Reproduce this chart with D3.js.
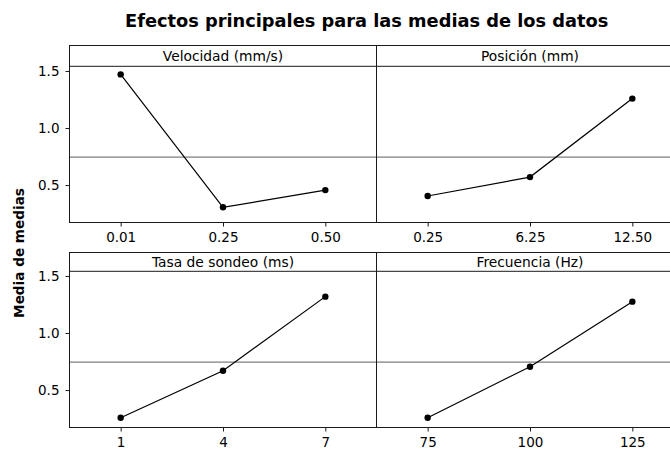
<!DOCTYPE html>
<html>
<head>
<meta charset="utf-8">
<script src="https://cdn.jsdelivr.net/npm/d3@7"></script>
<style>
  html, body { margin: 0; padding: 0; background: #fff; }
  svg { display: block; }
  text { font-family: "DejaVu Sans", Verdana, sans-serif; }
</style>
</head>
<body>
<svg id="chart" width="670" height="450"></svg>
<script>
// ---- Data ----
const title = "Efectos principales para las medias de los datos";
const yLabel = "Media de medias";
const factorNames = ["Velocidad (mm/s)", "Posición (mm)", "Tasa de sondeo (ms)", "Frecuencia (Hz)"];
const velocidadLevels = ["0.01", "0.25", "0.50"];
const velocidadMeans = [1.470, 0.305, 0.456];
const posicionLevels = ["0.25", "6.25", "12.50"];
const posicionMeans = [0.404, 0.570, 1.258];
const tasaLevels = ["1", "4", "7"];
const tasaMeans = [0.258, 0.670, 1.319];
const frecuenciaLevels = ["75", "100", "125"];
const frecuenciaMeans = [0.258, 0.705, 1.275];
const yTicks = [0.5, 1.0, 1.5];
const yDomain = [0.172, 1.541];

const panels = [
  { name: factorNames[0], levels: velocidadLevels, means: velocidadMeans, row: 0, col: 0 },
  { name: factorNames[1], levels: posicionLevels, means: posicionMeans, row: 0, col: 1 },
  { name: factorNames[2], levels: tasaLevels, means: tasaMeans, row: 1, col: 0 },
  { name: factorNames[3], levels: frecuenciaLevels, means: frecuenciaMeans, row: 1, col: 1 }
];
const grandMean = d3.mean([].concat(velocidadMeans, posicionMeans, tasaMeans, frecuenciaMeans));

// ---- Layout ----
const colLeft = [69.5, 376.5];
const colWidth = 307;
const rowTop = [45.5, 252.5];
const plotTop = [66.3, 271.3];
const plotBottom = [222.5, 427.5];
const lineColor = "#1a1a1a";
const fontSize = "13.5px";

const svg = d3.select("#chart");

svg.append("text")
  .attr("x", 125).attr("y", 27)
  .attr("font-size", "17.8px").attr("font-weight", "bold")
  .attr("fill", "#000")
  .text(title);

svg.append("text")
  .attr("transform", "translate(24,253) rotate(-90)")
  .attr("text-anchor", "middle")
  .attr("font-size", "13.6px").attr("font-weight", "bold")
  .attr("fill", "#000")
  .text(yLabel);

panels.forEach(p => {
  const x0 = colLeft[p.col], x1 = x0 + colWidth;
  const g = svg.append("g");
  const x = d3.scalePoint().domain(p.levels).range([x0, x1]).padding(0.5);
  const y = d3.scaleLinear().domain(yDomain).range([plotBottom[p.row], plotTop[p.row]]);

  // mean reference line
  g.append("line")
    .attr("x1", x0).attr("x2", x1)
    .attr("y1", y(grandMean)).attr("y2", y(grandMean))
    .attr("stroke", "#7f7f7f").attr("stroke-width", 1.3);

  // data line
  const pts = p.levels.map((l, i) => [x(l), y(p.means[i])]);
  g.append("path")
    .attr("d", d3.line()(pts))
    .attr("fill", "none").attr("stroke", "#000").attr("stroke-width", 1.2);
  g.selectAll("circle").data(pts).join("circle")
    .attr("cx", d => d[0]).attr("cy", d => d[1]).attr("r", 3.2).attr("fill", "#000");

  // frame and strip
  g.append("rect")
    .attr("x", x0).attr("y", rowTop[p.row])
    .attr("width", colWidth).attr("height", plotBottom[p.row] - rowTop[p.row])
    .attr("fill", "none").attr("stroke", lineColor).attr("stroke-width", 1);
  g.append("line")
    .attr("x1", x0).attr("x2", x1)
    .attr("y1", plotTop[p.row]).attr("y2", plotTop[p.row])
    .attr("stroke", lineColor).attr("stroke-width", 1);
  g.append("text")
    .attr("x", x0 + colWidth / 2)
    .attr("y", (rowTop[p.row] + plotTop[p.row]) / 2)
    .attr("dy", "0.36em")
    .attr("text-anchor", "middle")
    .attr("font-size", "13.8px").attr("fill", "#000")
    .text(p.name);

  // x axis
  const xa = g.append("g")
    .attr("transform", `translate(0,${plotBottom[p.row]})`)
    .call(d3.axisBottom(x).tickSize(4).tickPadding(6));
  xa.select(".domain").remove();
  xa.selectAll("line").attr("stroke", lineColor);
  xa.selectAll("text").attr("font-size", fontSize).attr("font-family", "DejaVu Sans").attr("fill", "#000");

  // y axis
  if (p.col === 0) {
    const ya = g.append("g")
      .attr("transform", `translate(${x0},0)`)
      .call(d3.axisLeft(y).tickValues(yTicks).tickFormat(d3.format(".1f")).tickSize(4).tickPadding(6));
    ya.select(".domain").remove();
    ya.selectAll("line").attr("stroke", lineColor);
    ya.selectAll("text").attr("font-size", fontSize).attr("font-family", "DejaVu Sans").attr("fill", "#000");
  }
});
</script>
</body>
</html>
